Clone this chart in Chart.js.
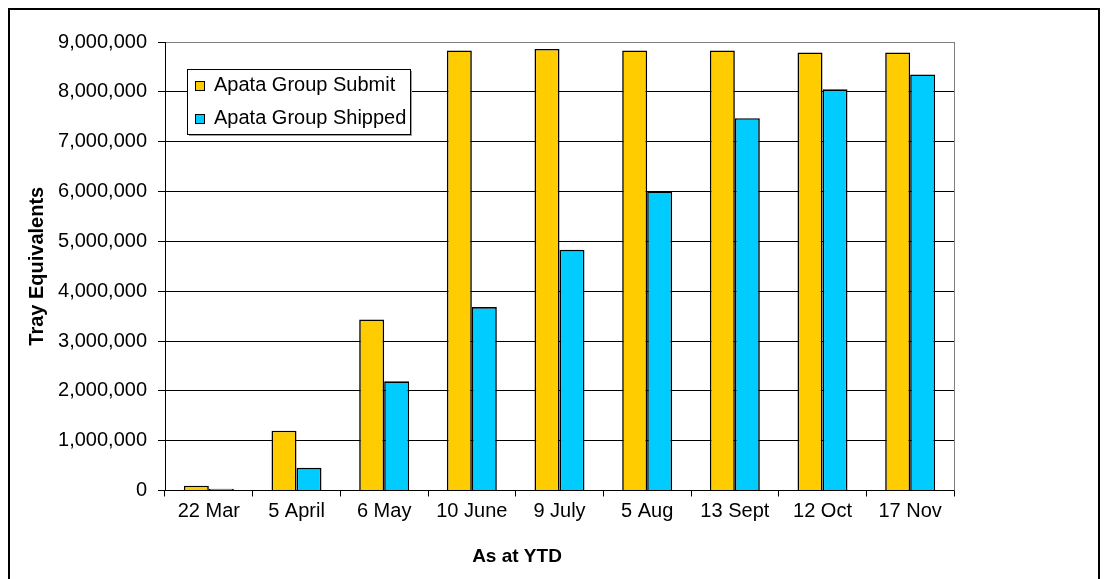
<!DOCTYPE html>
<html><head><meta charset="utf-8">
<script src="https://cdn.jsdelivr.net/npm/chart.js@4"></script>
<style>html,body{margin:0;padding:0;background:#fff;overflow:hidden}#wrap{position:relative;width:1105px;height:579px}canvas{display:block}</style>
</head><body><div id="wrap"><canvas id="c" width="1105" height="579"></canvas></div>
<script>
const categories = ['22 Mar','5 April','6 May','10 June','9 July','5 Aug','13 Sept','12 Oct','17 Nov'];
const submitValues = [95000,1200000,3430000,8830000,8860000,8830000,8830000,8790000,8790000];
const shippedValues = [35000,456000,2190000,3680000,4830000,6000000,7470000,8050000,8350000];
const seriesNames = ['Apata Group Submit','Apata Group Shipped'];
const seriesColors = ['#FFCC00','#00CCFF'];
const yTicks = [0,1000000,2000000,3000000,4000000,5000000,6000000,7000000,8000000,9000000];
const xTitle = 'As at YTD';
const yTitle = 'Tray Equivalents';

const FONT = "'Liberation Sans', Arial, sans-serif";

const framePlugin = {
  id: 'frame',
  beforeDatasetsDraw(chart) {
    const {ctx, chartArea: a} = chart;
    ctx.save();
    ctx.strokeStyle = '#808080';
    ctx.lineWidth = 1;
    ctx.beginPath();
    const x = Math.round(a.right) + 0.5;
    ctx.moveTo(x, a.top);
    ctx.lineTo(x, a.bottom);
    ctx.stroke();
    ctx.restore();
  },
  afterDraw(chart) {
    const ctx = chart.ctx;
    ctx.save();
    // outer frame
    ctx.strokeStyle = '#000';
    ctx.lineWidth = 2;
    ctx.beginPath();
    ctx.moveTo(9, 600); ctx.lineTo(9, 9); ctx.lineTo(1099, 9); ctx.lineTo(1099, 600);
    ctx.stroke();
    // legend
    const lx = 187, ly = 69, lw = 223, lh = 65;
    ctx.fillStyle = '#a0a0a0';
    ctx.fillRect(lx + 2, ly + 2, lw, lh);
    ctx.fillStyle = '#fff';
    ctx.fillRect(lx, ly, lw, lh);
    ctx.strokeStyle = '#000';
    ctx.lineWidth = 1;
    ctx.strokeRect(lx + 0.5, ly + 0.5, lw, lh);
    ctx.font = '20px ' + FONT;
    ctx.textBaseline = 'middle';
    ctx.textAlign = 'left';
    chart.data.datasets.forEach((ds, i) => {
      const sy = i === 0 ? 81 : 114;
      ctx.fillStyle = ds.backgroundColor;
      ctx.fillRect(195, sy, 10, 10);
      ctx.strokeStyle = '#000';
      ctx.strokeRect(195.5, sy + 0.5, 9, 9);
      ctx.fillStyle = '#000';
      ctx.fillText(ds.label, 214, sy + 4);
    });
    // x title
    ctx.font = 'bold 19px ' + FONT;
    ctx.textAlign = 'center';
    ctx.fillText(xTitle, 517, 557);
    ctx.restore();
  }
};

new Chart(document.getElementById('c'), {
  type: 'bar',
  data: {
    labels: categories,
    datasets: [
      {label: seriesNames[0], data: submitValues, backgroundColor: seriesColors[0], borderColor: '#000', borderWidth: 1.6},
      {label: seriesNames[1], data: shippedValues, backgroundColor: seriesColors[1], borderColor: '#000', borderWidth: 1.6}
    ]
  },
  options: {
    responsive: false,
    devicePixelRatio: 1,
    animation: false,
    categoryPercentage: 0.57,
    barPercentage: 1.0,
    layout: {padding: {left: 0, top: 42, right: 151, bottom: 0}},
    plugins: {legend: {display: false}, tooltip: {enabled: false}, title: {display: false}},
    scales: {
      x: {
        offset: true,
        grid: {display: true, drawOnChartArea: false, drawTicks: true, tickLength: 6, offset: true, color: '#000'},
        border: {color: '#000', width: 1},
        ticks: {color: '#000', font: {family: FONT, size: 20}, padding: 3, maxRotation: 0, autoSkip: false},
        afterFit(s) { s.height = 88.5; }
      },
      y: {
        min: 0, max: 9000000,
        afterBuildTicks(s) { s.ticks = yTicks.map(v => ({value: v})); },
        grid: {color: (c) => (c.tick && c.tick.value === 9000000) ? '#808080' : '#000', tickColor: '#000', tickLength: 7, drawTicks: true},
        border: {color: '#000', width: 1},
        ticks: {color: '#000', font: {family: FONT, size: 20}, padding: 11, callback: (v) => Number(v).toLocaleString('en-US')},
        title: {display: true, text: yTitle, color: '#000', font: {family: FONT, size: 20, weight: 'bold'}, padding: {top: 25, bottom: 0}},
        afterFit(s) { s.width = 165; }
      }
    }
  },
  plugins: [framePlugin]
});
</script></body></html>
